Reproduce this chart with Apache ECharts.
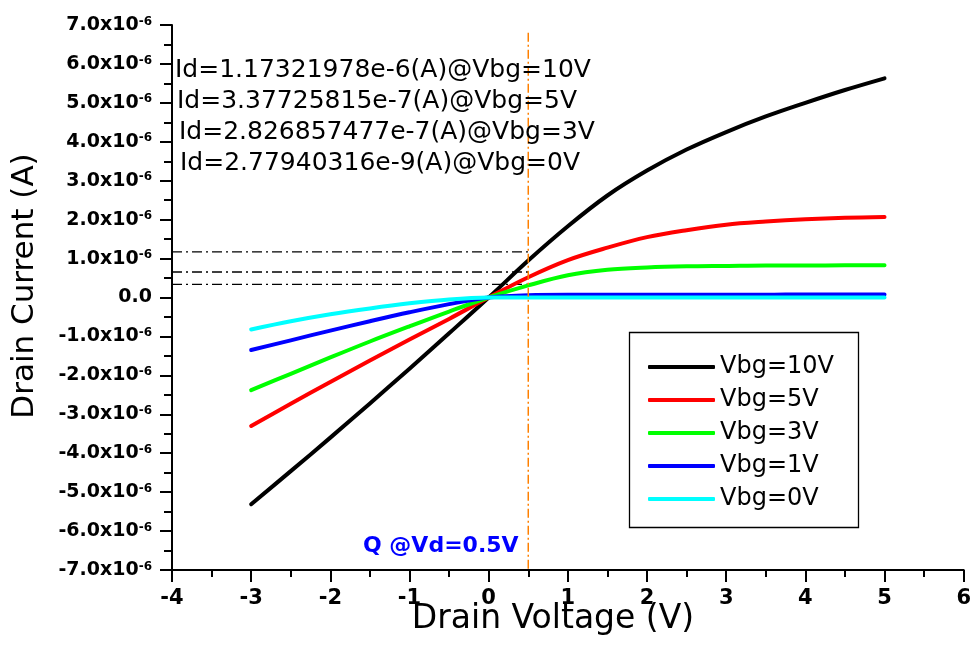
<!DOCTYPE html>
<html>
<head>
<meta charset="utf-8">
<script src="https://cdn.jsdelivr.net/npm/echarts@6/dist/echarts.min.js"></script>
<style>
  html, body { margin: 0; padding: 0; background: #ffffff; }
  #chart { width: 974px; height: 664px; }
</style>
</head>
<body>
<div id="chart"></div>
<script>
// Drain voltage sweep (V)
const drainVoltage = [-3, -2.5, -2, -1.5, -1, -0.5, 0, 0.5, 1, 1.5, 2, 2.5, 3, 3.5, 4, 4.5, 5];

// Drain current for each back-gate bias, in units of 1e-6 A
const currentVbg10 = [-5.31, -4.46, -3.60, -2.72, -1.83, -0.92, 0, 0.95, 1.83, 2.62, 3.26, 3.80, 4.25, 4.65, 5.00, 5.33, 5.63];
const currentVbg5  = [-3.30, -2.73, -2.17, -1.62, -1.08, -0.55, 0, 0.52, 0.96, 1.28, 1.55, 1.73, 1.87, 1.95, 2.01, 2.05, 2.07];
const currentVbg3  = [-2.38, -1.96, -1.54, -1.13, -0.74, -0.36, 0, 0.31, 0.57, 0.71, 0.77, 0.80, 0.81, 0.82, 0.82, 0.83, 0.83];
const currentVbg1  = [-1.35, -1.10, -0.85, -0.61, -0.38, -0.17, 0, 0.06, 0.07, 0.07, 0.07, 0.07, 0.07, 0.07, 0.08, 0.08, 0.08];
const currentVbg0  = [-0.82, -0.61, -0.43, -0.28, -0.15, -0.05, 0, 0.003, 0.003, 0.003, 0.003, 0.003, 0.003, 0.003, 0.003, 0.003, 0.003];

const seriesNames  = ['Vbg=10V', 'Vbg=5V', 'Vbg=3V', 'Vbg=1V', 'Vbg=0V'];
const seriesColors = ['#000000', '#ff0000', '#00ff00', '#0000ff', '#00ffff'];
const seriesValues = [currentVbg10, currentVbg5, currentVbg3, currentVbg1, currentVbg0];

// Operating point and read-off currents (1e-6 A)
const biasVoltage = 0.5;
const biasLineTop = 6.8;
const readoutCurrents = [1.17321978, 0.655, 0.337725815];
const readoutFrom = -4;
const readoutTo = 0.54;

const annotationLines = [
  'Id=1.17321978e-6(A)@Vbg=10V',
  'Id=3.37725815e-7(A)@Vbg=5V',
  'Id=2.826857477e-7(A)@Vbg=3V',
  'Id=2.77940316e-9(A)@Vbg=0V'
];
const annotationIndent = [175, 177, 179, 180];
const biasLabel = 'Q @Vd=0.5V';

// Axis ranges
const xMin = -4, xMax = 6, xStep = 1;
const yMin = -7, yMax = 7, yStep = 1;
const yExponent = '-6';

const FONT = "'DejaVu Sans'";

const chart = echarts.init(document.getElementById('chart'));

const curveSeries = seriesNames.map((name, i) => ({
  name: name,
  type: 'line',
  data: drainVoltage.map((v, k) => [v, seriesValues[i][k]]),
  smooth: 0.35,
  showSymbol: false,
  symbol: 'none',
  color: seriesColors[i],
  lineStyle: { color: seriesColors[i], width: 4, cap: 'round', join: 'round' },
  z: 10 + i
}));

const readoutSeries = readoutCurrents.map((c, i) => ({
  name: 'readout' + i,
  type: 'line',
  data: [[readoutFrom, c], [readoutTo, c]],
  symbol: 'none',
  silent: true,
  lineStyle: { color: '#000000', width: 1.3, type: [10, 4, 2, 4] },
  z: 5
}));

const biasSeries = {
  name: 'bias',
  type: 'line',
  data: [[biasVoltage, biasLineTop], [biasVoltage, yMin]],
  symbol: 'none',
  silent: true,
  lineStyle: { color: '#ff8000', width: 1.5, type: [9, 3, 2, 3] },
  z: 20
};

const graphics = [];
annotationLines.forEach((t, i) => {
  graphics.push({
    type: 'text',
    x: annotationIndent[i],
    y: 70 + i * 31,
    style: {
      text: t, fill: '#000', fontFamily: FONT, fontSize: 25,
      textAlign: 'left', textVerticalAlign: 'middle'
    },
    z: 30
  });
});
graphics.push({
  type: 'text', x: 363, y: 546,
  style: {
    text: biasLabel, fill: '#0000ff', fontFamily: FONT, fontWeight: 'bold', fontSize: 22,
    textAlign: 'left', textVerticalAlign: 'middle'
  },
  z: 30
});
graphics.push({
  type: 'text', x: 553, y: 619,
  style: {
    text: 'Drain Voltage (V)', fill: '#000', fontFamily: FONT, fontSize: 33,
    textAlign: 'center', textVerticalAlign: 'middle'
  }
});
graphics.push({
  type: 'text', x: 25, y: 286, rotation: Math.PI / 2,
  style: {
    text: 'Drain Current (A)', fill: '#000', fontFamily: FONT, fontSize: 31,
    textAlign: 'center', textVerticalAlign: 'middle'
  }
});
graphics.push({
  type: 'rect',
  shape: { x: 629.5, y: 332.5, width: 229, height: 195 },
  style: { fill: 'rgba(0,0,0,0)', stroke: '#000', lineWidth: 1.3 },
  z: 25
});

chart.setOption({
  animation: false,
  backgroundColor: '#ffffff',
  grid: { left: 172, right: 10, top: 25, bottom: 94, containLabel: false },
  xAxis: {
    type: 'value', min: xMin, max: xMax, interval: xStep,
    axisLine: { onZero: false, lineStyle: { color: '#000', width: 2 } },
    axisTick: { length: 12, lineStyle: { color: '#000', width: 2 } },
    minorTick: { show: true, splitNumber: 2, length: 7, lineStyle: { color: '#000', width: 2 } },
    splitLine: { show: false },
    axisLabel: { margin: 18, color: '#000', fontFamily: FONT, fontWeight: 'bold', fontSize: 21,
      formatter: v => String(v) }
  },
  yAxis: {
    type: 'value', min: yMin, max: yMax, interval: yStep,
    axisLine: { show: true, onZero: false, lineStyle: { color: '#000', width: 2 } },
    axisTick: { show: true, length: 12, lineStyle: { color: '#000', width: 2 } },
    minorTick: { show: true, splitNumber: 2, length: 8, lineStyle: { color: '#000', width: 2 } },
    splitLine: { show: false },
    axisLabel: {
      margin: 20,
      formatter: v => {
        const r = Math.round(v * 10) / 10;
        if (r === 0) return '{m|0.0}';
        return '{m|' + r.toFixed(1) + 'x10}{e|' + yExponent + '}';
      },
      rich: {
        m: { fontFamily: FONT, fontWeight: 'bold', fontSize: 19, lineHeight: 19, color: '#000', verticalAlign: 'bottom' },
        e: { fontFamily: FONT, fontWeight: 'bold', fontSize: 12, lineHeight: 12, color: '#000', verticalAlign: 'top', padding: [0, 0, 14, 0] }
      }
    }
  },
  legend: {
    orient: 'vertical', left: 648, top: 355, padding: 0,
    itemWidth: 67, itemHeight: 4, itemGap: 9, icon: 'roundRect',
    data: seriesNames,
    textStyle: { fontFamily: FONT, fontSize: 24, lineHeight: 24, color: '#000' }
  },
  graphic: graphics,
  series: [...curveSeries, ...readoutSeries, biasSeries]
});
</script>
</body>
</html>
